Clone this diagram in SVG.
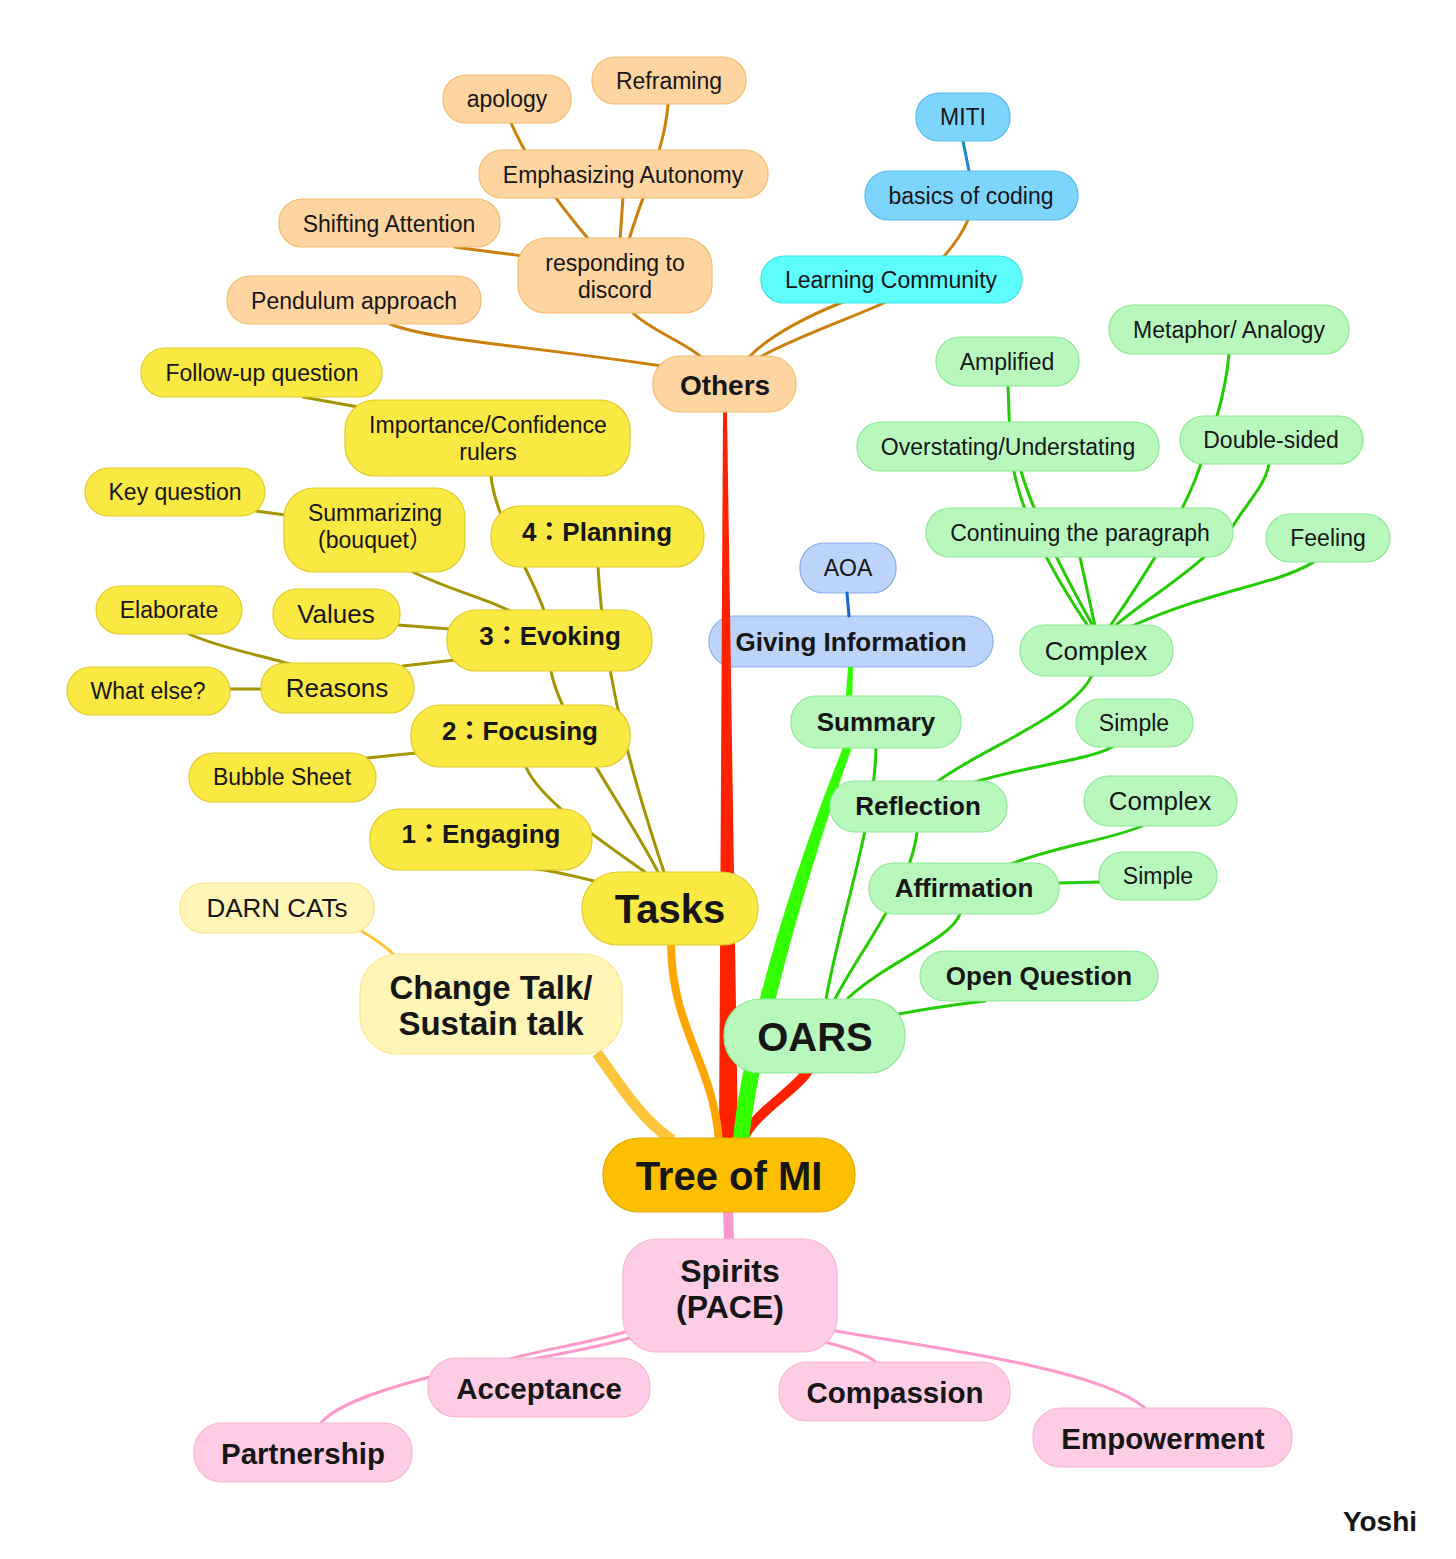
<svg xmlns="http://www.w3.org/2000/svg" width="1456" height="1559" viewBox="0 0 1456 1559">
<style>
text{font-family:"Liberation Sans",Arial,"Noto Sans CJK JP",sans-serif;fill:#161616;text-anchor:middle;dominant-baseline:central}
.r{font-size:23px}
.m{font-size:26px}
.b{font-size:26px;font-weight:bold}
.bb{font-size:29.5px;font-weight:bold}
.xl{font-size:40px;font-weight:bold}
.n rect{stroke-width:1.2}
.peach rect{fill:#FED4A0;stroke:#F2BC72}
.yel rect{fill:#FAE843;stroke:#E2CB2C}
.grn rect{fill:#B8F8BC;stroke:#8FE895}
.cyan rect{fill:#5DFDFD;stroke:#3EE3EE}
.sky rect{fill:#7DD5FD;stroke:#58BDEB}
.blu rect{fill:#BCD4FA;stroke:#8AAEEB}
.pale rect{fill:#FFF5B7;stroke:#FBE48D}
.gold rect{fill:#FDC000;stroke:#E3A900}
.pink rect{fill:#FECCE4;stroke:#FBB5D6}
.c path{fill:none;stroke-width:3;stroke-linecap:round}
.co{stroke:#CC7F0A}
.cy{stroke:#A39400}
.cg{stroke:#22CC00}
.cp{stroke:#FF99CC}
</style>

<g id="node-giving-information" class="n blu"><rect x="709" y="616" width="284" height="51" rx="25"/><text x="851" y="642" class="b">Giving Information</text></g>
<g id="node-aoa" class="n blu"><rect x="800" y="543" width="96" height="50" rx="24"/><text x="848" y="568" class="r">AOA</text></g>

<g id="connectors" class="c">
<!-- root branches -->
<path d="M723,412 L727,412 L738,1140 L719,1140 Z" style="fill:#FF2200;stroke:none"/>
<path d="M742,1141 C754,1112 795,1092 810,1068" style="stroke:#FF2200;stroke-width:10;stroke-linecap:butt"/>
<path d="M733,1140 C742,1040 790,880 842,750 L848,667 L853,667 L851,750 C805,880 760,1040 749,1140 Z" style="fill:#33FF00;stroke:none"/>
<path d="M671,944 C672,1030 712,1060 719,1140" style="stroke:#FFA500;stroke-width:8;stroke-linecap:butt"/>
<path d="M597,1053 C620,1085 640,1118 672,1140" style="stroke:#FDC53C;stroke-width:11;stroke-linecap:butt"/>
<path d="M728,1210 L729,1242" style="stroke:#FF99CC;stroke-width:10;stroke-linecap:butt"/>
<!-- others -->
<path class="co" d="M590,241 Q530,170 509,118"/>
<path class="co" d="M620,240 L623,197"/>
<path class="co" d="M629,240 C640,200 665,150 668,104"/>
<path class="co" d="M455,247 C480,251 505,253 522,256"/>
<path class="co" d="M633,313 C650,330 690,345 702,358"/>
<path class="co" d="M390,324 C430,340 520,345 662,366"/>
<path class="co" d="M749,357 C770,335 810,315 843,302"/>
<path class="co" d="M760,357 C800,335 860,315 890,300 C920,285 955,250 968,220"/>
<path d="M963,141 L969,171" style="stroke:#1788C8"/>
<path d="M847,593 L849,616" style="stroke:#1466D0"/>
<!-- green -->
<path class="cg" d="M1088,626 C1050,570 1012,500 1010,440 L1008,386"/>
<path class="cg" d="M1093,626 C1070,585 1035,520 1021,471"/>
<path class="cg" d="M1095,626 L1080,557"/>
<path class="cg" d="M1110,626 C1135,590 1175,530 1195,480 C1210,440 1225,400 1229,354"/>
<path class="cg" d="M1115,626 C1150,595 1215,560 1240,515 C1258,490 1266,480 1269,464"/>
<path class="cg" d="M1132,626 C1190,600 1240,590 1280,577 C1300,570 1310,565 1316,560"/>
<path class="cg" d="M937,782 C975,752 1075,715 1092,675"/>
<path class="cg" d="M975,782 C1030,765 1090,760 1112,747"/>
<path class="cg" d="M826,999 C840,920 875,820 876,748"/>
<path class="cg" d="M835,999 C860,950 910,890 917,832"/>
<path class="cg" d="M848,998 C890,960 950,940 960,914"/>
<path class="cg" d="M899,1014 C930,1008 960,1004 985,1001"/>
<path class="cg" d="M1011,864 C1060,845 1110,840 1142,826"/>
<path class="cg" d="M1059,883 L1100,882"/>
<!-- yellow -->
<path class="cy" d="M303,397 L358,407"/>
<path class="cy" d="M544,611 C535,580 495,520 491,476"/>
<path class="cy" d="M256,511 L285,515"/>
<path class="cy" d="M413,572 C450,590 490,600 510,611"/>
<path class="cy" d="M664,872 C640,800 605,690 598,567"/>
<path class="cy" d="M658,872 C620,800 560,720 551,671"/>
<path class="cy" d="M645,872 C600,840 540,800 526,767"/>
<path class="cy" d="M594,881 C570,875 550,870 535,869"/>
<path class="cy" d="M398,625 L450,629"/>
<path class="cy" d="M403,666 L455,660"/>
<path class="cy" d="M189,634 C220,648 260,655 290,664"/>
<path class="cy" d="M230,689 L262,689"/>
<path class="cy" d="M367,758 L416,753"/>
<path d="M360,930 C375,940 385,945 394,955" style="stroke:#FDC53C"/>
<!-- pink -->
<path class="cp" d="M628,1331 C590,1343 540,1350 510,1359"/>
<path class="cp" d="M633,1337 C590,1350 500,1365 430,1377 C380,1390 335,1405 320,1424"/>
<path class="cp" d="M824,1342 C850,1348 868,1355 877,1363"/>
<path class="cp" d="M835,1331 C950,1350 1100,1370 1145,1408"/>
</g>

<g id="node-reframing" class="n peach"><rect x="592" y="57" width="154" height="47" rx="23"/><text x="669" y="81" class="r">Reframing</text></g>
<g id="node-apology" class="n peach"><rect x="443" y="75" width="128" height="48" rx="23"/><text x="507" y="99" class="r">apology</text></g>
<g id="node-emphasizing-autonomy" class="n peach"><rect x="479" y="150" width="289" height="48" rx="23"/><text x="623" y="175" class="r">Emphasizing Autonomy</text></g>
<g id="node-shifting-attention" class="n peach"><rect x="279" y="199" width="221" height="48" rx="23"/><text x="389" y="224" class="r">Shifting Attention</text></g>
<g id="node-responding-to-discord" class="n peach"><rect x="518" y="238" width="194" height="75" rx="28"/><text x="615" y="263" class="r">responding to</text><text x="615" y="290" class="r">discord</text></g>
<g id="node-pendulum-approach" class="n peach"><rect x="227" y="276" width="254" height="48" rx="23"/><text x="354" y="301" class="r">Pendulum approach</text></g>
<g id="node-others" class="n peach"><rect x="653" y="356" width="143" height="56" rx="27"/><text x="725" y="385" class="b" style="font-size:28px">Others</text></g>

<g id="node-learning-community" class="n cyan"><rect x="761" y="256" width="261" height="47" rx="23"/><text x="891" y="280" class="r">Learning Community</text></g>
<g id="node-basics-of-coding" class="n sky"><rect x="865" y="171" width="213" height="49" rx="24"/><text x="971" y="196" class="r">basics of coding</text></g>
<g id="node-miti" class="n sky"><rect x="916" y="93" width="94" height="48" rx="23"/><text x="963" y="117" class="r">MITI</text></g>

<g id="node-metaphor-analogy" class="n grn"><rect x="1109" y="305" width="240" height="49" rx="24"/><text x="1229" y="330" class="r">Metaphor/ Analogy</text></g>
<g id="node-amplified" class="n grn"><rect x="936" y="337" width="143" height="49" rx="24"/><text x="1007" y="362" class="r">Amplified</text></g>
<g id="node-overstating-understating" class="n grn"><rect x="857" y="422" width="302" height="49" rx="24"/><text x="1008" y="447" class="r">Overstating/Understating</text></g>
<g id="node-double-sided" class="n grn"><rect x="1180" y="416" width="183" height="48" rx="24"/><text x="1271" y="440" class="r">Double-sided</text></g>
<g id="node-continuing-the-paragraph" class="n grn"><rect x="926" y="508" width="307" height="49" rx="24"/><text x="1080" y="533" class="r">Continuing the paragraph</text></g>
<g id="node-feeling" class="n grn"><rect x="1266" y="514" width="124" height="48" rx="24"/><text x="1328" y="538" class="r">Feeling</text></g>
<g id="node-complex-1" class="n grn"><rect x="1020" y="625" width="153" height="51" rx="25"/><text x="1096" y="651" class="m">Complex</text></g>
<g id="node-summary" class="n grn"><rect x="791" y="696" width="170" height="52" rx="25"/><text x="876" y="722" class="b">Summary</text></g>
<g id="node-simple-1" class="n grn"><rect x="1076" y="699" width="117" height="48" rx="24"/><text x="1134" y="723" class="r">Simple</text></g>
<g id="node-reflection" class="n grn"><rect x="830" y="781" width="177" height="51" rx="25"/><text x="918" y="806" class="b">Reflection</text></g>
<g id="node-complex-2" class="n grn"><rect x="1084" y="776" width="153" height="50" rx="25"/><text x="1160" y="801" class="m">Complex</text></g>
<g id="node-affirmation" class="n grn"><rect x="869" y="863" width="190" height="51" rx="25"/><text x="964" y="888" class="b">Affirmation</text></g>
<g id="node-simple-2" class="n grn"><rect x="1099" y="852" width="118" height="48" rx="24"/><text x="1158" y="876" class="r">Simple</text></g>
<g id="node-open-question" class="n grn"><rect x="920" y="951" width="238" height="50" rx="25"/><text x="1039" y="976" class="b">Open Question</text></g>
<g id="node-oars" class="n grn"><rect x="724" y="999" width="181" height="74" rx="36"/><text x="815" y="1037" class="xl">OARS</text></g>

<g id="node-follow-up-question" class="n yel"><rect x="141" y="348" width="241" height="49" rx="24"/><text x="262" y="373" class="r">Follow-up question</text></g>
<g id="node-importance-confidence-rulers" class="n yel"><rect x="345" y="400" width="285" height="76" rx="30"/><text x="488" y="425" class="r">Importance/Confidence</text><text x="488" y="452" class="r">rulers</text></g>
<g id="node-key-question" class="n yel"><rect x="85" y="468" width="180" height="48" rx="24"/><text x="175" y="492" class="r">Key question</text></g>
<g id="node-summarizing-bouquet" class="n yel"><rect x="284" y="488" width="181" height="84" rx="30"/><text x="375" y="513" class="r">Summarizing</text><text x="375" y="540" class="r">(bouquet）</text></g>
<g id="node-planning" class="n yel"><rect x="491" y="506" width="213" height="61" rx="29"/><text x="597" y="532" class="b">4：Planning</text></g>
<g id="node-elaborate" class="n yel"><rect x="96" y="586" width="146" height="48" rx="24"/><text x="169" y="610" class="r">Elaborate</text></g>
<g id="node-values" class="n yel"><rect x="273" y="589" width="127" height="50" rx="24"/><text x="336" y="614" class="m">Values</text></g>
<g id="node-evoking" class="n yel"><rect x="447" y="610" width="205" height="61" rx="29"/><text x="550" y="636" class="b">3：Evoking</text></g>
<g id="node-what-else" class="n yel"><rect x="67" y="667" width="163" height="48" rx="24"/><text x="148" y="691" class="r">What else?</text></g>
<g id="node-reasons" class="n yel"><rect x="261" y="663" width="153" height="50" rx="24"/><text x="337" y="688" class="m">Reasons</text></g>
<g id="node-focusing" class="n yel"><rect x="411" y="705" width="219" height="62" rx="29"/><text x="520" y="731" class="b">2：Focusing</text></g>
<g id="node-bubble-sheet" class="n yel"><rect x="189" y="753" width="187" height="49" rx="24"/><text x="282" y="777" class="r">Bubble Sheet</text></g>
<g id="node-engaging" class="n yel"><rect x="370" y="809" width="222" height="61" rx="29"/><text x="481" y="834" class="b">1：Engaging</text></g>
<g id="node-tasks" class="n yel"><rect x="582" y="872" width="176" height="73" rx="36"/><text x="670" y="909" class="xl">Tasks</text></g>

<g id="node-darn-cats" class="n pale"><rect x="180" y="883" width="194" height="50" rx="24"/><text x="277" y="908" class="m">DARN CATs</text></g>
<g id="node-change-talk" class="n pale"><rect x="360" y="954" width="262" height="100" rx="38"/><text x="491" y="987" class="b" style="font-size:33px">Change Talk/</text><text x="491" y="1023" class="b" style="font-size:33px">Sustain talk</text></g>

<g id="node-tree-of-mi" class="n gold"><rect x="603" y="1138" width="252" height="74" rx="36"/><text x="729" y="1176" class="xl">Tree of MI</text></g>

<g id="node-spirits-pace" class="n pink"><rect x="623" y="1239" width="214" height="113" rx="34"/><text x="730" y="1271" class="b" style="font-size:32px">Spirits</text><text x="730" y="1307" class="b" style="font-size:32px">(PACE)</text></g>
<g id="node-acceptance" class="n pink"><rect x="428" y="1358" width="222" height="59" rx="28"/><text x="539" y="1388" class="bb">Acceptance</text></g>
<g id="node-partnership" class="n pink"><rect x="194" y="1423" width="218" height="59" rx="28"/><text x="303" y="1453" class="bb">Partnership</text></g>
<g id="node-compassion" class="n pink"><rect x="779" y="1362" width="231" height="59" rx="28"/><text x="895" y="1392" class="bb">Compassion</text></g>
<g id="node-empowerment" class="n pink"><rect x="1033" y="1408" width="259" height="59" rx="28"/><text x="1163" y="1438" class="bb">Empowerment</text></g>

<text x="1380" y="1521" style="font-size:28px;font-weight:bold">Yoshi</text>
</svg>
